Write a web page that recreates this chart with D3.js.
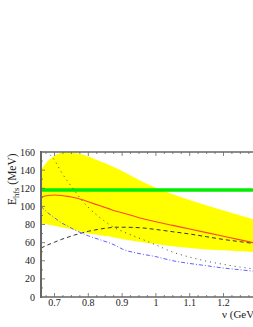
<!DOCTYPE html>
<html><head><meta charset="utf-8">
<script src="https://cdn.jsdelivr.net/npm/d3@7"></script>
<style>body{margin:0;background:#fff}svg{display:block}</style>
</head><body>
<script>
const nu = [0.66,0.68,0.70,0.72,0.74,0.76,0.78,0.80,0.82,0.84,0.86,0.88,0.90,0.95,1.00,1.05,1.10,1.15,1.20,1.25,1.30];
const bandUpper = [140,150,156,159,159.5,159,157.5,155,152,149,146,142.5,139,129,120.5,113.5,107,101,95.5,90,84.5];
const bandLower = [81,80,78.5,77,75.5,74,72,70,69,68,67,65.5,64,61,58.5,56,54,52.5,51.5,50.5,49.5];
const redLine = [110,112,112.5,112,111,109.5,107.5,105,102.5,100,97.5,95,93,87.5,83,79,75,71,67,63,59];
const dottedLine = [170,160,151,138,127,117,107,99,92,86,80.5,76,72.5,65,57.5,49.5,44,39.5,36,33,30.5];
const blueLine = [100,93,87.5,82,78,74,70.5,67.5,65,62.5,60,57,53,48,44.5,40,37,34.5,32,30,28];
const dashedLine = [54,57.5,60.5,63.5,66,68.5,70.5,72.5,74,75.3,76.3,77,77,76.5,74.5,72,69.5,66.5,63.5,61,58.5];
const greenLevel = 118;
const xTicks = [0.7,0.8,0.9,1.0,1.1,1.2];
const xTickLabels = ["0.7","0.8","0.9","1","1.1","1.2"];
const yTicks = [0,20,40,60,80,100,120,140,160];

const W=253,H=327;
const x=d3.scaleLinear().domain([0.66,1.30]).range([41,257.3]);
const y=d3.scaleLinear().domain([0,160]).range([297,152]);
const svg=d3.select("body").append("svg").attr("width",W).attr("height",H);
svg.append("defs").append("clipPath").attr("id","c").append("rect")
  .attr("x",41).attr("y",152).attr("width",220).attr("height",145);
const g=svg.append("g").attr("clip-path","url(#c)");
const pts=a=>nu.map((v,i)=>[v,a[i]]);
g.append("path").datum(nu.map((v,i)=>({x:v,u:bandUpper[i],l:bandLower[i]})))
  .attr("fill","#ffff00")
  .attr("d",d3.area().x(d=>x(d.x)).y0(d=>y(d.l)).y1(d=>y(d.u)).curve(d3.curveMonotoneX));
g.append("line").attr("x1",x(0.66)).attr("x2",x(1.3)).attr("y1",y(greenLevel)).attr("y2",y(greenLevel))
  .attr("stroke","#00ee00").attr("stroke-width",3.5);
const line=d3.line().x(d=>x(d[0])).y(d=>y(d[1])).curve(d3.curveMonotoneX);
g.append("path").datum(pts(redLine)).attr("d",line).attr("fill","none").attr("stroke","#ff4a1a").attr("stroke-width",1.1);
g.append("path").datum(pts(dashedLine)).attr("d",line).attr("fill","none").attr("stroke","#333").attr("stroke-width",1).attr("stroke-dasharray","4,3");
g.append("path").datum(pts(dottedLine)).attr("d",line).attr("fill","none").attr("stroke","#444").attr("stroke-width",1).attr("stroke-dasharray","1,4");
g.append("path").datum(pts(blueLine)).attr("d",line).attr("fill","none").attr("stroke","#6060ff").attr("stroke-width",1).attr("stroke-dasharray","4,2,1,2");

// axes
const ax=svg.append("g").attr("stroke","#666").attr("fill","none");
ax.append("line").attr("x1",41).attr("x2",260).attr("y1",297).attr("y2",297).attr("stroke-width",1.5);
ax.append("line").attr("x1",41).attr("x2",260).attr("y1",152).attr("y2",152).attr("stroke-width",1.5);
ax.append("line").attr("x1",41).attr("x2",41).attr("y1",151).attr("y2",298).attr("stroke-width",2);
const minorX=d3.range(0.675,1.3,0.025);
minorX.forEach(t=>{
  const major=xTicks.some(v=>Math.abs(v-t)<1e-6);
  const len=major?4:2;
  ax.append("line").attr("x1",x(t)).attr("x2",x(t)).attr("y1",297).attr("y2",297-len).attr("stroke-width",0.8);
  ax.append("line").attr("x1",x(t)).attr("x2",x(t)).attr("y1",152).attr("y2",152+len).attr("stroke-width",0.8);
});
d3.range(10,160,10).forEach(t=>{
  const len=(t%20===0)?4:2;
  ax.append("line").attr("x1",41).attr("x2",41+len).attr("y1",y(t)).attr("y2",y(t)).attr("stroke-width",0.8);
});
const font="Liberation Serif, Times New Roman, serif";
svg.append("g").selectAll("text").data(xTicks).join("text")
  .attr("x",d=>x(d)).attr("y",305.5).attr("text-anchor","middle")
  .attr("font-family",font).attr("font-size",10).attr("fill","#222").text((d,i)=>xTickLabels[i]);
svg.append("g").selectAll("text").data(yTicks).join("text")
  .attr("x",35).attr("y",d=>y(d)+3.5).attr("text-anchor","end")
  .attr("font-family",font).attr("font-size",10).attr("fill","#222").text(d=>d);
const yl=svg.append("text").attr("transform","translate(16,205) rotate(-90)")
  .attr("font-family",font).attr("font-size",11.5).attr("fill","#222");
yl.append("tspan").text("E");
yl.append("tspan").attr("font-size",8.5).attr("dy",3).text("hfs");
yl.append("tspan").attr("dy",-3).text(" (MeV)");
svg.append("text").attr("x",222).attr("y",318).attr("font-family",font).attr("font-size",11).attr("fill","#222").text("ν (GeV)");
</script>
</body></html>
